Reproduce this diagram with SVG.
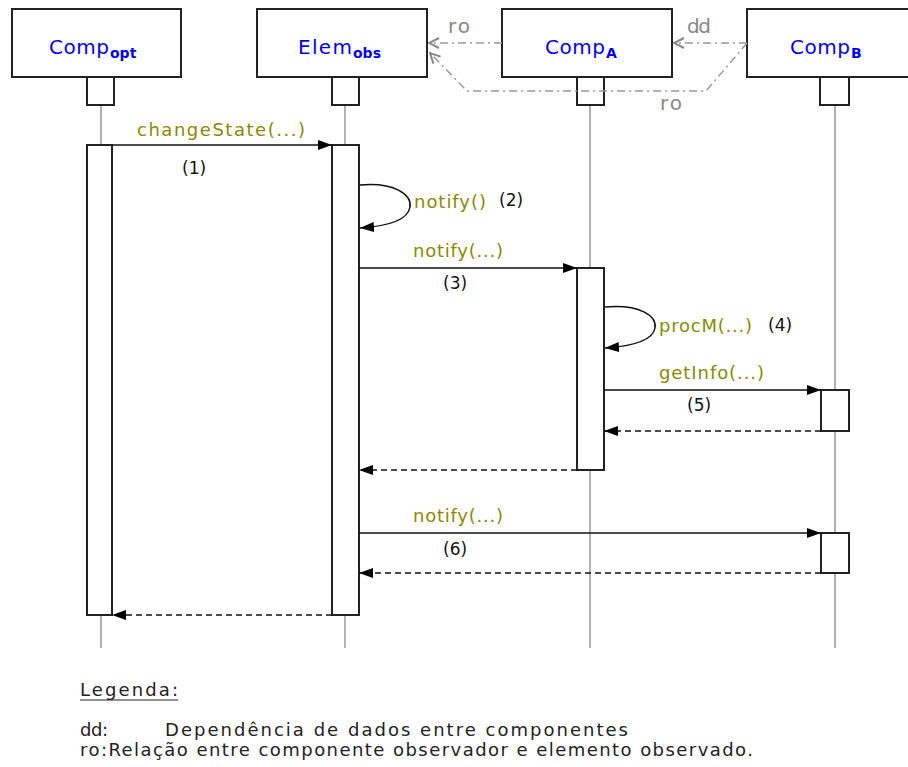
<svg xmlns="http://www.w3.org/2000/svg" width="908" height="767" viewBox="0 0 908 767">
<defs>
<marker id="fa" viewBox="0 0 14 10" refX="14" refY="5" markerWidth="14" markerHeight="10" markerUnits="userSpaceOnUse" orient="auto"><path d="M0,0 L14,5 L0,10 z" fill="#000"/></marker>
<marker id="ga" viewBox="0 0 12 12" refX="11" refY="6" markerWidth="12" markerHeight="12" markerUnits="userSpaceOnUse" orient="auto"><path d="M1,1 L11,6 L1,11" fill="none" stroke="#888" stroke-width="2"/></marker>
</defs>
<style>
.box{fill:#fff;stroke:#222;stroke-width:2}
.life{stroke:#999;stroke-width:1.5}
.act{fill:#fff;stroke:#222;stroke-width:2}
.msg{stroke:#111;stroke-width:1.5;fill:none}
.ret{stroke:#111;stroke-width:1.5;fill:none;stroke-dasharray:6,4}
.dep{stroke:#999;stroke-width:1.5;fill:none;stroke-dasharray:8,4,2,4}
.nm{font-family:"DejaVu Sans",sans-serif;font-size:20px;fill:#0000ff}
.sub{font-family:"DejaVu Sans",sans-serif;font-size:14px;font-weight:bold;fill:#0000ff}
.lbl{font-family:"DejaVu Sans",sans-serif;font-size:18px;fill:#8a8a00}
.num{font-family:"DejaVu Sans",sans-serif;font-size:17px;fill:#111}
.gl{font-family:"DejaVu Sans",sans-serif;font-size:20px;fill:#888}
.lg{font-family:"DejaVu Sans",sans-serif;font-size:18px;fill:#222}
</style>
<rect width="908" height="767" fill="#fff"/>
<g id="lifelines">
<line class="life" x1="101" y1="105" x2="101" y2="648"/>
<line class="life" x1="345" y1="105" x2="345" y2="648"/>
<line class="life" x1="590" y1="105" x2="590" y2="648"/>
<line class="life" x1="835" y1="105" x2="835" y2="648"/>
</g>
<g id="compopt">
<rect class="box" x="12" y="9" width="169" height="68"/>
<rect class="box" x="87" y="77" width="27" height="28"/>
<text x="49" y="54" class="nm" textLength="60" lengthAdjust="spacing">Comp</text><text x="110" y="58" class="sub">opt</text>
<rect class="act" x="87" y="145" width="25" height="470"/>
</g>
<g id="elemobs">
<rect class="box" x="257" y="9" width="170" height="68"/>
<rect class="box" x="332" y="77" width="27" height="28"/>
<text x="298" y="54" class="nm" textLength="54" lengthAdjust="spacing">Elem</text><text x="353" y="58" class="sub">obs</text>
<rect class="act" x="332" y="145" width="27" height="470"/>
</g>
<g id="compa">
<rect class="box" x="502" y="9" width="170" height="68"/>
<rect class="box" x="577" y="77" width="27" height="28"/>
<text x="545" y="54" class="nm" textLength="60" lengthAdjust="spacing">Comp</text><text x="606" y="58" class="sub">A</text>
<rect class="act" x="577" y="268" width="27" height="202"/>
</g>
<g id="compb">
<rect class="box" x="747" y="9" width="170" height="68"/>
<rect class="box" x="820" y="77" width="29" height="28"/>
<text x="790" y="54" class="nm" textLength="60" lengthAdjust="spacing">Comp</text><text x="851" y="58" class="sub">B</text>
<rect class="act" x="821" y="390" width="28" height="41"/>
<rect class="act" x="821" y="533" width="28" height="40"/>
</g>
<g id="connectors">
<line class="dep" x1="502" y1="43" x2="429" y2="43" marker-end="url(#ga)"/>
<line class="dep" x1="747" y1="43" x2="674" y2="43" marker-end="url(#ga)"/>
<polyline class="dep" points="747,43 706,91 467,91 430,53" marker-end="url(#ga)"/>
<line class="msg" x1="112" y1="145" x2="332" y2="145" marker-end="url(#fa)"/>
<path class="msg" d="M360,185 C395,182 412,195 410,207 C408,220 390,226 360,228" marker-end="url(#fa)"/>
<line class="msg" x1="359" y1="268" x2="577" y2="268" marker-end="url(#fa)"/>
<path class="msg" d="M605,307 C640,304 657,316 655,328 C653,340 635,346 605,348" marker-end="url(#fa)"/>
<line class="msg" x1="604" y1="390" x2="821" y2="390" marker-end="url(#fa)"/>
<line class="ret" x1="821" y1="431" x2="604" y2="431" marker-end="url(#fa)"/>
<line class="ret" x1="577" y1="470" x2="359" y2="470" marker-end="url(#fa)"/>
<line class="msg" x1="359" y1="533" x2="821" y2="533" marker-end="url(#fa)"/>
<line class="ret" x1="821" y1="573" x2="359" y2="573" marker-end="url(#fa)"/>
<line class="ret" x1="332" y1="615" x2="112" y2="615" marker-end="url(#fa)"/>
</g>
<g id="labels">
<text x="448" y="33" class="gl" textLength="22" lengthAdjust="spacing">ro</text>
<text x="687" y="33" class="gl" textLength="24" lengthAdjust="spacing">dd</text>
<text x="660" y="110" class="gl" textLength="22" lengthAdjust="spacing">ro</text>
<text x="137" y="136" class="lbl" textLength="168" lengthAdjust="spacing">changeState(...)</text>
<text x="182" y="174" class="num">(1)</text>
<text x="414" y="208" class="lbl" textLength="72" lengthAdjust="spacing">notify()</text>
<text x="499" y="206" class="num">(2)</text>
<text x="413" y="257" class="lbl" textLength="90" lengthAdjust="spacing">notify(...)</text>
<text x="443" y="289" class="num">(3)</text>
<text x="659" y="332" class="lbl" textLength="93" lengthAdjust="spacing">procM(...)</text>
<text x="768" y="331" class="num">(4)</text>
<text x="659" y="379" class="lbl" textLength="105" lengthAdjust="spacing">getInfo(...)</text>
<text x="687" y="411" class="num">(5)</text>
<text x="413" y="522" class="lbl" textLength="90" lengthAdjust="spacing">notify(...)</text>
<text x="443" y="555" class="num">(6)</text>
</g>
<g id="legend">
<text x="80" y="696" class="lg" textLength="98" lengthAdjust="spacing">Legenda:</text>
<line x1="80" y1="700" x2="178" y2="700" stroke="#222" stroke-width="1"/>
<text x="80" y="736" class="lg" textLength="28" lengthAdjust="spacing">dd:</text>
<text x="165" y="736" class="lg" textLength="463" lengthAdjust="spacing">Dependência de dados entre componentes</text>
<text x="80" y="756" class="lg" textLength="673" lengthAdjust="spacing">ro:Relação entre componente observador e elemento observado.</text>
</g>
</svg>
